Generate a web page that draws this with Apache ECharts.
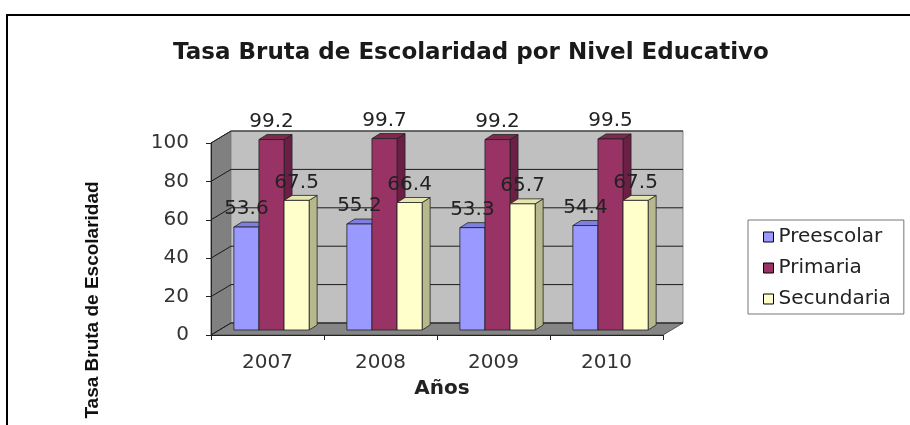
<!DOCTYPE html>
<html>
<head>
<meta charset="utf-8">
<script src="https://cdn.jsdelivr.net/npm/echarts@6/dist/echarts.min.js"></script>
<style>
  html, body { margin: 0; padding: 0; background: #fff; }
  #chart { width: 910px; height: 425px; }
</style>
</head>
<body>
<div id="chart"></div>
<script>
// data
var years = ['2007', '2008', '2009', '2010'];
var preescolar = [53.6, 55.2, 53.3, 54.4];
var primaria = [99.2, 99.7, 99.2, 99.5];
var secundaria = [67.5, 66.4, 65.7, 67.5];
var seriesNames = ['Preescolar', 'Primaria', 'Secundaria'];
var yTicks = [0, 20, 40, 60, 80, 100];

// excel-ish 3d colours: front, top, side
var faces = [
    ['#9999ff', '#7f7fe0', '#6b6bbf'],
    ['#993366', '#80294f', '#6b1f44'],
    ['#ffffcc', '#e6e6b0', '#b8b88f']
];

var FONT = 'DejaVu Sans';
var DEPTH_X = 20, DEPTH_Y = -12;   // wall depth
var BAR_DX = 8, BAR_DY = -5;       // bar depth

var chart = echarts.init(document.getElementById('chart'));

function toPairs(arr) {
    return arr.map(function (v, i) { return [i, v]; });
}

// back wall, left wall, floor and their grid lines
function renderWalls(params, api) {
    var band = api.size([1, 0])[0];
    var l = api.coord([0, 0])[0] - band / 2;
    var r = api.coord([years.length - 1, 0])[0] + band / 2;
    var y0 = api.coord([0, 0])[1];
    var yTop = api.coord([0, 100])[1];
    var kids = [];
    kids.push({ type: 'polygon', shape: { points: [[l, yTop], [l + DEPTH_X, yTop + DEPTH_Y], [l + DEPTH_X, y0 + DEPTH_Y], [l, y0]] },
        style: { fill: '#808080', stroke: '#555', lineWidth: 1 } });
    kids.push({ type: 'polygon', shape: { points: [[l + DEPTH_X, yTop + DEPTH_Y], [r + DEPTH_X, yTop + DEPTH_Y], [r + DEPTH_X, y0 + DEPTH_Y], [l + DEPTH_X, y0 + DEPTH_Y]] },
        style: { fill: '#c0c0c0', stroke: '#888', lineWidth: 1 } });
    kids.push({ type: 'polygon', shape: { points: [[l, y0], [r, y0], [r + DEPTH_X, y0 + DEPTH_Y], [l + DEPTH_X, y0 + DEPTH_Y]] },
        style: { fill: '#858585', stroke: '#555', lineWidth: 1 } });
    yTicks.forEach(function (t) {
        var y = api.coord([0, t])[1];
        kids.push({ type: 'polyline', shape: { points: [[l, y], [l + DEPTH_X, y + DEPTH_Y], [r + DEPTH_X, y + DEPTH_Y]] },
            style: { stroke: '#1a1a1a', lineWidth: 1, fill: null } });
    });
    return { type: 'group', children: kids };
}

function makeBarRenderer(si) {
    return function (params, api) {
        var ci = api.value(0), v = api.value(1);
        var base = api.coord([ci, 0]);
        var top = api.coord([ci, v]);
        var band = api.size([1, 0])[0];
        var bw = band * 0.222;
        var x0 = base[0] - 1.5 * bw + 4 + si * bw;
        var yb = base[1] + BAR_DY, yt = top[1] + BAR_DY;
        var c = faces[si];
        var edge = { stroke: '#222', lineWidth: 0.8 };
        return {
            type: 'group',
            children: [
                { type: 'polygon', shape: { points: [[x0 + bw, yt], [x0 + bw + BAR_DX, yt + BAR_DY], [x0 + bw + BAR_DX, yb + BAR_DY], [x0 + bw, yb]] },
                  style: Object.assign({ fill: c[2] }, edge) },
                { type: 'polygon', shape: { points: [[x0, yt], [x0 + bw, yt], [x0 + bw + BAR_DX, yt + BAR_DY], [x0 + BAR_DX, yt + BAR_DY]] },
                  style: Object.assign({ fill: c[1] }, edge) },
                { type: 'rect', shape: { x: x0, y: yt, width: bw, height: yb - yt },
                  style: Object.assign({ fill: c[0] }, edge) },
                { type: 'text', z2: 100, x: x0 + bw / 2, y: yt - 18,
                  style: { text: String(v), fill: '#222', font: '20px "' + FONT + '"', align: 'center', verticalAlign: 'middle' } }
            ]
        };
    };
}

var seriesData = [preescolar, primaria, secundaria];

var series = [{
    type: 'custom',
    name: 'walls',
    silent: true,
    z: 1,
    data: [[0, 0]],
    renderItem: renderWalls
}];
seriesData.forEach(function (arr, si) {
    series.push({
        type: 'custom',
        name: seriesNames[si],
        z: 3,
        itemStyle: { color: faces[si][0] },
        data: toPairs(arr),
        renderItem: makeBarRenderer(si)
    });
});

option = {
    backgroundColor: '#fff',
    animation: false,
    title: {
        text: 'Tasa Bruta de Escolaridad por Nivel Educativo',
        left: 466,
        top: 37,
        textAlign: 'center',
        textStyle: { fontFamily: FONT, fontSize: 23, fontWeight: 'bold', color: '#1a1a1a' }
    },
    legend: {
        orient: 'vertical',
        left: 748,
        top: 220,
        padding: [7, 13, 5, 15],
        itemGap: 11,
        itemWidth: 10,
        itemHeight: 10,
        borderColor: '#777',
        borderWidth: 1,
        textStyle: { fontFamily: FONT, fontSize: 20, color: '#222' },
        data: seriesNames.map(function (n, i) {
            return { name: n, icon: 'rect', itemStyle: { color: faces[i][0], borderColor: '#000', borderWidth: 1 } };
        })
    },
    grid: { left: 211, top: 143, width: 452, height: 192 },
    xAxis: {
        type: 'category',
        data: years,
        name: 'Años',
        nameLocation: 'middle',
        nameGap: 44,
        nameTextStyle: { fontFamily: FONT, fontSize: 20, fontWeight: 'bold', color: '#222', padding: [0, 0, 0, 10] },
        axisLine: { lineStyle: { color: '#222', width: 1 } },
        axisTick: { show: true, length: 5, interval: 0, lineStyle: { color: '#222' } },
        axisLabel: { fontFamily: FONT, fontSize: 20, color: '#333', margin: 18 },
        z: 5
    },
    yAxis: {
        type: 'value',
        min: 0,
        max: 100,
        interval: 20,
        axisLine: { show: true, lineStyle: { color: '#222', width: 1 } },
        axisTick: { show: true, length: 5, lineStyle: { color: '#222' } },
        axisLabel: { fontFamily: FONT, fontSize: 20, color: '#333', margin: 22 },
        splitLine: { show: false },
        z: 5
    },
    graphic: [
        { type: 'polyline', shape: { points: [[910, 15], [7, 15], [7, 425]] },
          style: { stroke: '#000', lineWidth: 2, fill: null } },
        { type: 'text', x: 93, y: 300, rotation: Math.PI / 2,
          style: { text: 'Tasa Bruta de Escolaridad', font: 'bold 19px "Liberation Sans"', fill: '#111', align: 'center', verticalAlign: 'middle' } }
    ],
    series: series
};

chart.setOption(option);
</script>
</body>
</html>
